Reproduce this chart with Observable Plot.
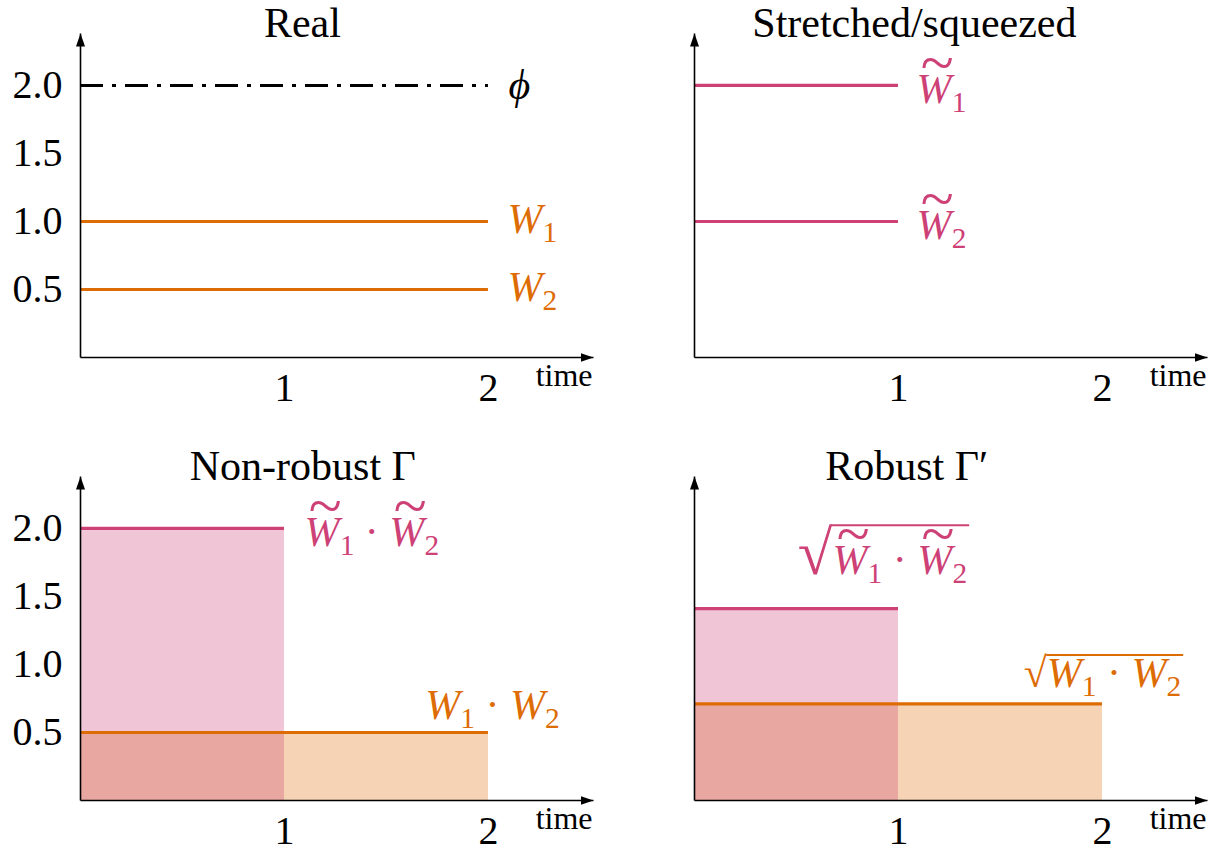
<!DOCTYPE html>
<html>
<head>
<meta charset="utf-8">
<script src="https://cdn.jsdelivr.net/npm/d3@7"></script>
<script src="https://cdn.jsdelivr.net/npm/@observablehq/plot@0.6"></script>
<style>
  html, body { margin: 0; padding: 0; background: #fff; }
  #chart { position: relative; width: 1220px; height: 852px; background: #fff; }
</style>
</head>
<body>
<div id="chart"></div>
<script>
// ---------- data ----------
const yTicks = [0.5, 1.0, 1.5, 2.0];
const xTicks = [1, 2];
const titles = ["Real", "Stretched/squeezed", "Non-robust Γ", "Robust Γ′"];

// Real
const realPhi = [{x1: 0, x2: 2, y: 2.0, label: "phi"}];
const realLines = [
  {x1: 0, x2: 2, y: 1.0, label: "W1"},
  {x1: 0, x2: 2, y: 0.5, label: "W2"}
];
// Stretched / squeezed
const stretchedLines = [
  {x1: 0, x2: 1, y: 2.0, label: "tW1"},
  {x1: 0, x2: 1, y: 1.0, label: "tW2"}
];
// Non-robust Γ
const nonRobustPink = [{x1: 0, x2: 1, y: 2.0, label: "tW1·tW2"}];
const nonRobustOrange = [{x1: 0, x2: 2, y: 0.5, label: "W1·W2"}];
// Robust Γ′
const robustPink = [{x1: 0, x2: 1, y: 1.41, label: "sqrt(tW1·tW2)"}];
const robustOrange = [{x1: 0, x2: 2, y: 0.71, label: "sqrt(W1·W2)"}];

// ---------- style ----------
const XMAX = 2.515, YMAX = 2.382;
const ORANGE = "#DE6C05";
const PINK = "#CD4176";
const FONT = "'Liberation Serif', 'Times New Roman', serif";
const FS_TICK = 40, FS_TITLE = 42, FS_LABEL = 42, FS_TIME = 32;
const LINE_W = 3.2;

const labelCodes = new Set([realPhi, realLines, stretchedLines, nonRobustPink, nonRobustOrange, robustPink, robustOrange].flat().map(d => d.label));

const axisSegs = [
  {x1: 0, y1: 0, x2: 0, y2: YMAX},
  {x1: 0, y1: 0, x2: XMAX, y2: 0}
];

function basePlot({marks, showY, title, titleX}) {
  return Plot.plot({
    width: 614, height: 443,
    marginLeft: 80, marginRight: 21, marginTop: 33, marginBottom: 86,
    x: {domain: [0, XMAX]},
    y: showY ? {domain: [0, YMAX]} : {domain: [0, YMAX], axis: null},
    style: {fontFamily: FONT, fontSize: FS_TICK + "px", background: "transparent", overflow: "visible", color: "black"},
    marks: [
      ...marks,
      showY ? Plot.axisY({ticks: yTicks, tickSize: 0, tickPadding: 18, tickFormat: ".1f", label: null, fontSize: FS_TICK, fill: "black"}) : null,
      Plot.axisX({ticks: xTicks, tickSize: 0, tickPadding: 15, tickFormat: "d", label: null, fontSize: FS_TICK, fill: "black"}),
      Plot.link(axisSegs, {x1: "x1", y1: "y1", x2: "x2", y2: "y2", stroke: "black", strokeWidth: 1.6}),
      Plot.text(["time"], {frameAnchor: "bottom-right", text: d => d, textAnchor: "end", fontSize: FS_TIME, dx: -1, dy: 28, fill: "black"}),
      Plot.text([title], {frameAnchor: "top", x: () => titleX, text: d => d, textAnchor: "middle", lineAnchor: "middle", fontSize: FS_TITLE, dy: -9.5, fill: "black"})
    ]
  });
}

// ---------- rich label rendering (italic, subscripts, tilde, radical) ----------
function buildLabel(textEl, code, fs) {
  const t = d3.select(textEl);
  t.text(null);
  let pend = {dx: 0, dy: 0};
  const sub = Math.round(fs * 0.22);
  const add = (parent, str, attrs = {}, shift = {}) => {
    const ts = parent.append("tspan").text(str);
    const dx = pend.dx + (shift.dx || 0), dy = pend.dy + (shift.dy || 0);
    if (dx) ts.attr("dx", dx);
    if (dy) ts.attr("dy", dy);
    pend = {dx: 0, dy: 0};
    for (const [k, v] of Object.entries(attrs)) ts.attr(k, v);
    return ts;
  };
  const addVar = (parent, v) => {
    if (v === "phi") { add(parent, "ϕ", {"font-style": "italic"}); return; }
    const tilde = v.startsWith("t");
    const name = tilde ? v.slice(1) : v;
    add(parent, name[0], {"font-style": "italic"});
    if (tilde) {
      // wide tilde accent over the letter
      const tx = -0.73 * fs, ty = -0.47 * fs;
      add(parent, "~", {"font-size": fs * 1.45}, {dx: tx, dy: ty});
      pend = {dx: -0.05 * fs, dy: -ty};
    }
    if (name.length > 1) {
      add(parent, name.slice(1), {"font-size": fs * 0.7}, {dy: sub});
      pend = {dx: pend.dx, dy: pend.dy - sub};
    }
  };
  const addProduct = (parent, str) => {
    str.split("·").forEach((p, i) => {
      if (i > 0) add(parent, " · ");
      addVar(parent, p);
    });
  };
  if (code.startsWith("sqrt(")) {
    const inner = code.slice(5, -1);
    const tall = inner.includes("t");
    add(t, "√", {"font-size": tall ? fs * 1.5 : fs, class: "rad"});
    const g = t.append("tspan").attr("class", "inner");
    addProduct(g, inner);
  } else {
    addProduct(t, code);
  }
}

function addVinculum(textEl) {
  const rad = textEl.querySelector("tspan.rad");
  const inner = textEl.querySelector("tspan.inner");
  if (!rad || !inner) return;
  const rb = rad.getBBox(), ib = inner.getBBox();
  const fill = textEl.parentNode.getAttribute("fill") || textEl.getAttribute("fill") || "black";
  const y = rb.y + 0.10 * rb.height;
  const x1 = rb.x + rb.width - 1.5, x2 = ib.x + ib.width + 2;
  d3.select(textEl.parentNode).append("path")
    .attr("d", `M${x1},${y}H${x2}`)
    .attr("stroke", fill).attr("stroke-width", 2).attr("fill", "none")
    .attr("transform", textEl.getAttribute("transform"));
}

let markerCount = 0;
function post(svg) {
  const s = d3.select(svg);
  const sqrtTexts = [];
  s.selectAll("text").each(function() {
    const code = this.textContent;
    if (this.children.length === 0 && labelCodes.has(code)) {
      buildLabel(this, code, FS_LABEL);
      if (code.startsWith("sqrt(")) sqrtTexts.push(this);
    }
  });
  sqrtTexts.forEach(addVinculum);
  const id = "arrowhead" + (markerCount++);
  s.append("defs").append("marker")
    .attr("id", id).attr("viewBox", "0 0 13 9").attr("refX", 13).attr("refY", 4.5)
    .attr("markerWidth", 13).attr("markerHeight", 9).attr("markerUnits", "userSpaceOnUse")
    .attr("orient", "auto")
    .append("path").attr("d", "M0,0L13,4.5L0,9Z").attr("fill", "black");
  s.selectAll('g[aria-label="link"] path').attr("marker-end", `url(#${id})`);
}

const chart = document.getElementById("chart");
function mount(svg, left, top) {
  svg.style.position = "absolute";
  svg.style.left = left + "px";
  svg.style.top = top + "px";
  chart.appendChild(svg);
  post(svg);
}

const lineOpts = (stroke) => ({x1: "x1", x2: "x2", y: "y", stroke, strokeWidth: LINE_W});
const fillOpts = (fill) => ({x1: "x1", x2: "x2", y1: () => 0, y2: "y", fill, fillOpacity: 0.3});
const labelOpts = (fill, extra) => ({x: "x2", y: "y", text: "label", fill, fontSize: FS_LABEL, lineAnchor: "middle", ...extra});

// Panel 1: Real
mount(basePlot({
  title: titles[0], titleX: 1.088, showY: true,
  marks: [
    Plot.ruleY(realPhi, {...lineOpts("black"), strokeWidth: 3, strokeDasharray: "23,9,4,9"}),
    Plot.ruleY(realLines, lineOpts(ORANGE)),
    Plot.text(realPhi, labelOpts("black", {textAnchor: "start", dx: 20, dy: 0})),
    Plot.text(realLines, labelOpts(ORANGE, {textAnchor: "start", dx: 19, dy: -2}))
  ]
}), 0, 0);

// Panel 2: Stretched/squeezed
mount(basePlot({
  title: titles[1], titleX: 1.078, showY: false,
  marks: [
    Plot.ruleY(stretchedLines, lineOpts(PINK)),
    Plot.text(stretchedLines, labelOpts(PINK, {textAnchor: "start", dx: 18, dy: 4}))
  ]
}), 614, 0);

// Panel 3: Non-robust Γ
mount(basePlot({
  title: titles[2], titleX: 1.09, showY: true,
  marks: [
    Plot.rect(nonRobustOrange, fillOpts(ORANGE)),
    Plot.rect(nonRobustPink, fillOpts(PINK)),
    Plot.ruleY(nonRobustPink, lineOpts(PINK)),
    Plot.ruleY(nonRobustOrange, lineOpts(ORANGE)),
    Plot.text(nonRobustPink, labelOpts(PINK, {textAnchor: "start", dx: 20, dy: 4})),
    Plot.text(nonRobustOrange, labelOpts(ORANGE, {textAnchor: "middle", dx: 4, dy: -27}))
  ]
}), 0, 443);

// Panel 4: Robust Γ′
mount(basePlot({
  title: titles[3], titleX: 1.04, showY: false,
  marks: [
    Plot.rect(robustOrange, fillOpts(ORANGE)),
    Plot.rect(robustPink, fillOpts(PINK)),
    Plot.ruleY(robustPink, lineOpts(PINK)),
    Plot.ruleY(robustOrange, lineOpts(ORANGE)),
    Plot.text(robustPink, labelOpts(PINK, {textAnchor: "middle", dx: -16, dy: -48})),
    Plot.text(robustOrange, labelOpts(ORANGE, {textAnchor: "middle", dx: 0, dy: -30}))
  ]
}), 614, 443);
</script>
</body>
</html>
